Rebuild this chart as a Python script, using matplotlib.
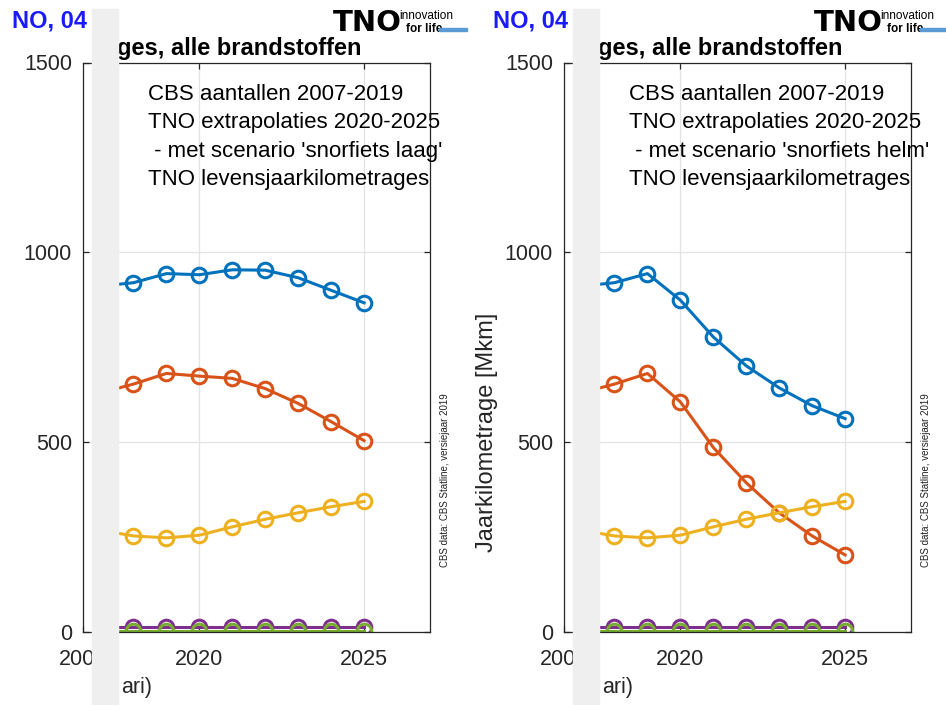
import matplotlib.pyplot as plt
from matplotlib.patches import Rectangle

plt.rcParams["font.family"] = ["Liberation Sans", "DejaVu Sans"]

W, H = 946, 705

# data (Mkm)
years = [2017, 2018, 2019, 2020, 2021, 2022, 2023, 2024, 2025]

blue_laag = [911, 920, 944, 941, 954, 953, 933, 900, 867]
orange_laag = [630, 653, 681, 674, 668, 641, 602, 554, 504]
blue_helm = [911, 920, 944, 874, 777, 701, 643, 596, 562]
orange_helm = [630, 653, 681, 606, 486, 393, 314, 253, 203]
yellow = [268, 253, 248, 255, 277, 297, 314, 330, 344]
purple = [14, 14, 14, 14, 14, 14, 14, 14, 14]
green = [3, 3, 3, 3, 3, 3, 3, 3, 3]

scenarios = ["snorfiets laag", "snorfiets helm"]
yticks = [0, 500, 1000, 1500]
xticks = [2020, 2025]

colors = ["#0072BD", "#D95319", "#EDB120", "#7E2F8E", "#77AC30"]
axcol = "#262626"
gridcol = "#e3e3e3"


def fx(x):
    return x / W


def fy(y):
    return 1 - y / H


def setup_axes(ax):
    for s in ax.spines.values():
        s.set_color(axcol)
        s.set_linewidth(0.9)
    ax.tick_params(direction="in", length=4, colors=axcol, labelsize=15.5,
                   width=0.9)
    ax.set_ylim(0, 1500)
    ax.set_yticks(yticks)


def panel(fig, off, series, scenario, ylabel):
    bottom = fy(632)
    height = (632 - 62.5) / H

    # small piece at the start of the axis (2005)
    axl = fig.add_axes([fx(83 + off), bottom, fx(9), height])
    setup_axes(axl)
    axl.set_xlim(2005, 2005 + 9 / 33)
    axl.set_xticks([2005])
    axl.spines["right"].set_visible(False)
    axl.tick_params(axis="y", pad=8)
    axl.tick_params(axis="x", pad=12)
    axl.grid(True, color=gridcol, linewidth=0.9)

    # main part
    ax = fig.add_axes([fx(118 + off), bottom, fx(312), height])
    setup_axes(ax)
    ax.set_xlim(2017.53, 2027)
    ax.set_xticks(xticks)
    ax.spines["left"].set_visible(False)
    ax.tick_params(top=True, right=True, left=False, labelleft=False)
    ax.tick_params(axis="x", pad=12)
    ax.grid(True, color=gridcol, linewidth=0.9)
    ax.set_axisbelow(True)

    for vals, c in zip(series, colors):
        ax.plot(years, vals, color=c, lw=2.2, marker="o", ms=10.5, mew=2.2,
                mfc="none", markevery=slice(1, None))

    ax.text(0.095, 0.962,
            "CBS aantallen 2007-2019\nTNO extrapolaties 2020-2025\n"
            f" - met scenario '{scenario}'\nTNO levensjaarkilometrages",
            transform=ax.transAxes, ha="left", va="top", fontsize=16,
            linespacing=1.45, color="black", clip_on=False)

    fig.text(fx(445 + off), fy(480), "CBS data: CBS Statline, versiejaar 2019",
             rotation=90, ha="center", va="center", fontsize=7, color="#222222")

    fig.text(fx(117 + off), fy(48), "ges, alle brandstoffen", ha="left",
             va="center", fontsize=17, fontweight="bold", color="black")
    fig.text(fx(12 + off), fy(21), "NO, 04", ha="left", va="center",
             fontsize=17, fontweight="bold", color="#1a1aff")
    fig.text(fx(121 + off), fy(688), "ari)", ha="left", va="center",
             fontsize=15.5, color=axcol)
    if ylabel:
        fig.text(fx(487 + off - 481), fy(432), ylabel, rotation=90,
                 ha="center", va="center", fontsize=17, color=axcol)

    # TNO logo
    fig.text(fx(333 + off), fy(23), "TNO", ha="left", va="center",
             fontsize=21, fontweight="black", family="DejaVu Sans",
             color="black")
    fig.text(fx(399 + off), fy(16), "innovation", ha="left", va="center",
             fontsize=8.5, color="black")
    fig.text(fx(406 + off), fy(29), "for life", ha="left", va="center",
             fontsize=8.5, fontweight="bold", color="black")
    fig.patches.append(Rectangle((fx(439 + off), fy(31)), fx(28), 3 / H,
                                 transform=fig.transFigure, color="#5b9bd5",
                                 zorder=5))

    # grey strip over the cut
    fig.patches.append(Rectangle((fx(92 + off), 0), fx(26), fy(9),
                                 transform=fig.transFigure, color="#efefef",
                                 zorder=10))


fig = plt.figure(figsize=(W / 100, H / 100), dpi=100)

panel(fig, 0, [blue_laag, orange_laag, yellow, purple, green], scenarios[0], None)
panel(fig, 481, [blue_helm, orange_helm, yellow, purple, green], scenarios[1],
      "Jaarkilometrage [Mkm]")

fig.savefig("out.png", dpi=100)
